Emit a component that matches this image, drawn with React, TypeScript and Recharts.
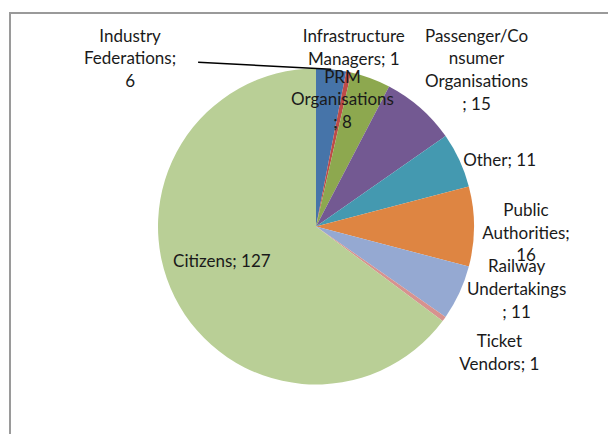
import { PieChart, Pie, Cell } from "recharts";

const CATEGORIES = [
  "Industry Federations",
  "Infrastructure Managers",
  "PRM Organisations",
  "Passenger/Consumer Organisations",
  "Other",
  "Public Authorities",
  "Railway Undertakings",
  "Ticket Vendors",
  "Citizens",
];

const VALUES = [6, 1, 8, 15, 11, 16, 11, 1, 127];

// label text wrapped the way the original chart breaks it
const LABEL_LINES = [
  ["Industry", "Federations;", "6"],
  ["Infrastructure", "Managers; 1"],
  ["PRM", "Organisations", "; 8"],
  ["Passenger/Co", "nsumer", "Organisations", "; 15"],
  ["Other; 11"],
  ["Public", "Authorities;", "16"],
  ["Railway", "Undertakings", "; 11"],
  ["Ticket", "Vendors; 1"],
  ["Citizens; 127"],
];

const COLORS = [
  "#4674A9",
  "#BE4B48",
  "#8DA84F",
  "#735992",
  "#4499B0",
  "#DE8542",
  "#95A9D2",
  "#D7928F",
  "#B9CF96",
];

// nudges from the default label anchor (just outside the rim)
const LABEL_NUDGE: [number, number][] = [
  [-203, 8],
  [1, -6],
  [-35, 39],
  [43, -24],
  [22, 7],
  [32, 5],
  [39, -13],
  [39, 21],
  [65, -46],
];

const data = CATEGORIES.map((name, i) => ({ name, value: VALUES[i] }));

const RAD = Math.PI / 180;
const LINE_H = 22.7;

function SliceLabel(props: any) {
  const { cx, cy, midAngle, outerRadius, index } = props;
  const cos = Math.cos(-midAngle * RAD);
  const sin = Math.sin(-midAngle * RAD);
  const ax = cx + (outerRadius + 20) * cos;
  const ay = cy + (outerRadius + 20) * sin;
  const [nx, ny] = LABEL_NUDGE[index];
  const x = ax + nx;
  const y = ay + ny;
  const lines = LABEL_LINES[index];
  const top = y - ((lines.length - 1) * LINE_H) / 2;
  return (
    <g>
      {index === 0 && (
        <line
          x1={x + 68}
          y1={y + 5}
          x2={cx + outerRadius * cos}
          y2={cy + outerRadius * sin}
          stroke="#000"
          strokeWidth={1.5}
        />
      )}
      <text
        x={x}
        y={top}
        textAnchor="middle"
        dominantBaseline="central"
        fill="#1a1a1a"
        fontSize={17}
        fontFamily="Lato, 'Open Sans', sans-serif"
      >
        {lines.map((l, i) => (
          <tspan key={i} x={x} y={top + i * LINE_H}>
            {l}
          </tspan>
        ))}
      </text>
    </g>
  );
}

export default function App() {
  return (
    <div style={{ position: "relative", width: 608, height: 426, overflow: "hidden" }}>
      <div
        style={{
          position: "absolute",
          left: 1,
          top: 4,
          width: 640,
          height: 460,
          borderLeft: "2px solid #9a9a9a",
          borderTop: "2px solid #9a9a9a",
        }}
      />
      <PieChart
        width={608}
        height={426}
        margin={{ top: 0, right: 0, bottom: 0, left: 0 }}
        style={{ position: "absolute", left: 0, top: 0 }}
      >
        <Pie
          data={data}
          dataKey="value"
          nameKey="name"
          cx={308}
          cy={218.5}
          outerRadius={158}
          startAngle={90}
          endAngle={-270}
          stroke="none"
          labelLine={false}
          label={SliceLabel}
          isAnimationActive={false}
        >
          {data.map((d, i) => (
            <Cell key={d.name} fill={COLORS[i]} />
          ))}
        </Pie>
      </PieChart>
    </div>
  );
}
